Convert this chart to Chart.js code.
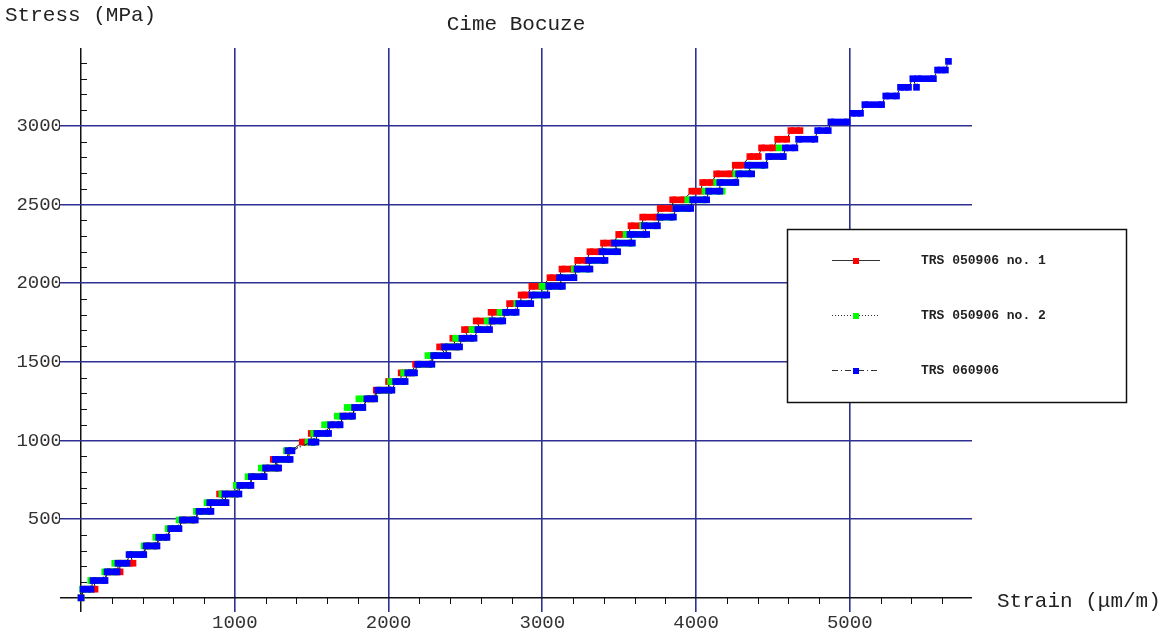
<!DOCTYPE html>
<html>
<head>
<meta charset="utf-8">
<script src="https://cdn.jsdelivr.net/npm/chart.js@4.4.1/dist/chart.umd.min.js"></script>
<style>
html, body { margin: 0; padding: 0; background: #fff; }
#wrap { width: 1165px; height: 639px; position: relative; }
</style>
</head>
<body>
<div id="wrap"><canvas id="myChart"></canvas></div>
<script>
var redStrain = [0, 20,91, 85,150, 175,254, 250,338, 320,400, 430,490, 510,555, 590,630, 665,735, 770,840,
    845,935, 901,1000, 1040,1100, 1110,1185, 1205,1280, 1250,1340, 1345,1370, 1439,1500, 1497,1580, 1630,1680,
    1710,1760, 1785,1830, 1865,1905, 1920,2000, 2000,2080, 2082,2150, 2176,2260, 2300,2380, 2332,2440, 2418,2520,
    2494,2600, 2570,2680, 2667,2760, 2787,2860, 2862,2900, 2932,3000, 3050,3110, 3128,3200, 3230,3290, 3310,3380,
    3398,3460, 3497,3560, 3577,3650, 3653,3740, 3767,3850, 3848,3920, 3972,4030, 4043,4100, 4134,4225, 4255,4300,
    4350,4405, 4426,4500, 4531,4590, 4617,4676];
var redStress = [0, 55,55, 110,110, 165,165, 220,220, 275,275, 330,330, 385,385, 440,440, 495,495, 550,550,
    605,605, 660,660, 715,715, 770,770, 825,825, 880,880, 935,935, 990,990, 1045,1045, 1100,1100,
    1155,1155, 1210,1210, 1265,1265, 1320,1320, 1375,1375, 1430,1430, 1485,1485, 1540,1540, 1595,1595, 1650,1650,
    1705,1705, 1760,1760, 1815,1815, 1870,1870, 1925,1925, 1980,1980, 2035,2035, 2090,2090, 2145,2145, 2200,2200,
    2255,2255, 2310,2310, 2365,2365, 2420,2420, 2475,2475, 2530,2530, 2585,2585, 2640,2640, 2695,2695, 2750,2750,
    2805,2805, 2860,2860, 2915,2915, 2970,2970];

var greenStrain = [0, 10,60, 63,140, 154,220, 219,290, 320,400, 410,480, 486,550, 566,630, 637,730, 750,830,
    819,930, 915,1010, 1010,1090, 1086,1180, 1172,1270, 1280,1350, 1335,1370, 1476,1520, 1513,1600, 1584,1680,
    1666,1760, 1731,1830, 1807,1911, 1940,2010, 2013,2100, 2098,2160, 2200,2280, 2256,2370, 2380,2450, 2436,2530,
    2543,2640, 2641,2730, 2725,2820, 2834,2910, 2950,3020, 2998,3120, 3120,3200, 3209,3300, 3320,3400, 3400,3480,
    3480,3580, 3545,3660, 3653,3740, 3770,3840, 3870,3950, 3946,4050, 4058,4170, 4134,4250, 4259,4350, 4340,4440,
    4480,4560, 4540];
var greenStress = [0, 55,55, 110,110, 165,165, 220,220, 275,275, 330,330, 385,385, 440,440, 495,495, 550,550,
    605,605, 660,660, 715,715, 770,770, 825,825, 880,880, 935,935, 990,990, 1045,1045, 1100,1100,
    1155,1155, 1210,1210, 1265,1265, 1320,1320, 1375,1375, 1430,1430, 1485,1485, 1540,1540, 1595,1595, 1650,1650,
    1705,1705, 1760,1760, 1815,1815, 1870,1870, 1925,1925, 1980,1980, 2035,2035, 2090,2090, 2145,2145, 2200,2200,
    2255,2255, 2310,2310, 2365,2365, 2420,2420, 2475,2475, 2530,2530, 2585,2585, 2640,2640, 2695,2695, 2750,2750,
    2805,2805, 2860];

var blueStrain = [0, 13,65, 78,156, 169,234, 240,299, 312,408, 423,494, 505,559, 583,637, 658,743, 767,845,
    837,943, 936,1027, 1032,1105, 1107,1191, 1200,1285, 1263,1360, 1346,1372, 1497,1528, 1534,1610, 1623,1685,
    1703,1766, 1779,1833, 1859,1909, 1930,2022, 2046,2108, 2125,2169, 2190,2282, 2293,2386, 2364,2462, 2477,2556,
    2581,2657, 2673,2743, 2761,2830, 2847,2925, 2933,3029, 3042,3131, 3112,3206, 3226,3310, 3302,3408, 3388,3490,
    3469,3586, 3570,3679, 3664,3749, 3765,3853, 3869,3965, 3978,4069, 4082,4155, 4155,4259, 4277,4362, 4336,4448,
    4472,4568, 4581,4643, 4667,4773, 4791,4860, 4877,4984, 5018,5070, 5098,5207, 5234,5304, 5330,5382,
    5410,5434,5444,5544, 5571,5622, 5642];
var blueStress = [0, 55,55, 110,110, 165,165, 220,220, 275,275, 330,330, 385,385, 440,440, 495,495, 550,550,
    605,605, 660,660, 715,715, 770,770, 825,825, 880,880, 935,935, 990,990, 1045,1045, 1100,1100,
    1155,1155, 1210,1210, 1265,1265, 1320,1320, 1375,1375, 1430,1430, 1485,1485, 1540,1540, 1595,1595, 1650,1650,
    1705,1705, 1760,1760, 1815,1815, 1870,1870, 1925,1925, 1980,1980, 2035,2035, 2090,2090, 2145,2145, 2200,2200,
    2255,2255, 2310,2310, 2365,2365, 2420,2420, 2475,2475, 2530,2530, 2585,2585, 2640,2640, 2695,2695, 2750,2750,
    2805,2805, 2860,2860, 2915,2915, 2970,2970, 3025,3025, 3080,3080, 3135,3135, 3190,3190, 3245,3245,
    3300,3245,3300,3300, 3355,3355, 3410];

var seriesLabels = ['TRS 050906 no. 1', 'TRS 050906 no. 2', 'TRS 060906'];
var seriesColors = ['#ff0000', '#00ff00', '#0000ff'];
var seriesDash = [[], [1, 2], [6, 3, 1, 3]];

var xTicks = [0, 200, 400, 600, 800, 1000, 1200, 1400, 1600, 1800, 2000, 2200, 2400, 2600, 2800, 3000,
    3200, 3400, 3600, 3800, 4000, 4200, 4400, 4600, 4800, 5000, 5200, 5400, 5600];
var yTicks = [0, 100, 200, 300, 400, 500, 600, 700, 800, 900, 1000, 1100, 1200, 1300, 1400, 1500, 1600, 1700,
    1800, 1900, 2000, 2100, 2200, 2300, 2400, 2500, 2600, 2700, 2800, 2900, 3000, 3100, 3200, 3300, 3400];
var xLabels = [1000, 2000, 3000, 4000, 5000];
var yLabels = [500, 1000, 1500, 2000, 2500, 3000];

var gridBlue = '#2e3192';
var monoFont = "'Liberation Mono', 'DejaVu Sans Mono', monospace";

function points(xs, ys) {
    var out = [];
    for (var i = 0; i < Math.min(xs.length, ys.length); i++) out.push({x: xs[i], y: ys[i]});
    return out;
}

function flat(c) {
    return c.p0.parsed.y === c.p1.parsed.y;
}

function makeSet(i, xs, ys, order) {
    return {
        label: seriesLabels[i],
        data: points(xs, ys),
        order: order,
        borderColor: '#111',
        borderWidth: 1,
        tension: 0,
        fill: false,
        pointStyle: 'rect',
        pointRadius: 4.7,
        pointBorderWidth: 0,
        pointBackgroundColor: seriesColors[i],
        segment: {
            borderColor: function (c) { return flat(c) ? seriesColors[i] : '#111'; },
            borderWidth: function (c) { return flat(c) ? 6.6 : 1; },
            borderDash: function (c) { return flat(c) ? [] : seriesDash[i]; }
        }
    };
}

var decorations = {
    id: 'decorations',
    beforeDatasetsDraw: function (chart) {
        var ctx = chart.ctx, x = chart.scales.x, y = chart.scales.y;
        var x0 = Math.round(x.getPixelForValue(0)), y0 = Math.round(y.getPixelForValue(0));
        ctx.save();
        ctx.strokeStyle = '#111';
        ctx.lineWidth = 1;
        ctx.beginPath();
        x.ticks.forEach(function (t) {
            if (t.value % 1000 !== 0) {
                var px = Math.round(x.getPixelForValue(t.value)) + 0.5;
                ctx.moveTo(px, y0); ctx.lineTo(px, y0 + 6);
            }
        });
        y.ticks.forEach(function (t) {
            if (t.value % 500 !== 0) {
                var py = Math.round(y.getPixelForValue(t.value)) + 0.5;
                ctx.moveTo(x0, py); ctx.lineTo(x0 + 6, py);
            }
        });
        ctx.stroke();
        ctx.restore();
    },
    afterDraw: function (chart) {
        var ctx = chart.ctx, area = chart.chartArea;
        ctx.save();
        ctx.fillStyle = '#222';
        ctx.font = '21px ' + monoFont;
        ctx.textBaseline = 'middle';
        ctx.textAlign = 'left';
        ctx.fillText('Stress (MPa)', 5, 15);
        ctx.fillText('Strain (\u03bcm/m)', 997, 601);
        ctx.textAlign = 'center';
        ctx.fillText('Cime Bocuze', (area.left + area.right) / 2, 24);

        // legend box
        ctx.fillStyle = '#fff';
        ctx.fillRect(787, 229, 339, 173);
        ctx.strokeStyle = '#111';
        ctx.lineWidth = 1.5;
        ctx.strokeRect(787.5, 229.5, 339, 173);
        var rows = [260, 315, 370];
        for (var i = 0; i < 3; i++) {
            var ry = rows[i] + 0.5;
            ctx.strokeStyle = '#333';
            ctx.lineWidth = 1.2;
            ctx.setLineDash(seriesDash[i]);
            ctx.beginPath();
            ctx.moveTo(832, ry); ctx.lineTo(880, ry);
            ctx.stroke();
            ctx.setLineDash([]);
            ctx.fillStyle = seriesColors[i];
            ctx.fillRect(853, rows[i] - 2, 6, 6);
            ctx.fillStyle = '#222';
            ctx.font = 'bold 13px ' + monoFont;
            ctx.textAlign = 'left';
            ctx.fillText(seriesLabels[i], 921, rows[i] + 1);
        }
        ctx.restore();
    }
};

var element = document.getElementById('myChart').getContext('2d');
var chart = new Chart(element, {
    type: 'line',
    data: {
        datasets: [
            makeSet(0, redStrain, redStress, 3),
            makeSet(1, greenStrain, greenStress, 2),
            makeSet(2, blueStrain, blueStress, 1)
        ]
    },
    options: {
        responsive: true,
        maintainAspectRatio: false,
        animation: false,
        events: [],
        layout: { padding: { left: 0, right: 193, top: 48, bottom: 0 } },
        plugins: { legend: { display: false }, tooltip: { enabled: false }, title: { display: false } },
        scales: {
            x: {
                type: 'linear',
                min: -137,
                max: 5795,
                afterBuildTicks: function (s) { s.ticks = xTicks.map(function (v) { return {value: v}; }); },
                afterFit: function (s) { s.height = 27; },
                border: { display: false },
                grid: {
                    drawTicks: false,
                    color: function (c) {
                        var v = c.tick.value;
                        if (v === 0) return '#111';
                        return xLabels.indexOf(v) >= 0 ? gridBlue : 'rgba(0,0,0,0)';
                    },
                    lineWidth: function (c) { return c.tick.value === 0 ? 1.5 : 1.6; }
                },
                ticks: {
                    autoSkip: false,
                    maxRotation: 0,
                    padding: 0,
                    color: '#333',
                    font: { family: monoFont, size: 19 },
                    callback: function (v) { return xLabels.indexOf(v) >= 0 ? String(v) : ''; }
                }
            },
            y: {
                type: 'linear',
                min: -90,
                max: 3495,
                afterBuildTicks: function (s) { s.ticks = yTicks.map(function (v) { return {value: v}; }); },
                afterFit: function (s) { s.width = 60; },
                border: { display: false },
                grid: {
                    drawTicks: false,
                    color: function (c) {
                        var v = c.tick.value;
                        if (v === 0) return '#111';
                        return yLabels.indexOf(v) >= 0 ? gridBlue : 'rgba(0,0,0,0)';
                    },
                    lineWidth: function (c) { return c.tick.value === 0 ? 1.5 : 1.6; }
                },
                ticks: {
                    autoSkip: false,
                    padding: -2,
                    color: '#333',
                    font: { family: monoFont, size: 19 },
                    callback: function (v) { return yLabels.indexOf(v) >= 0 ? String(v) : ''; }
                }
            }
        }
    },
    plugins: [decorations]
});
</script>
</body>
</html>
